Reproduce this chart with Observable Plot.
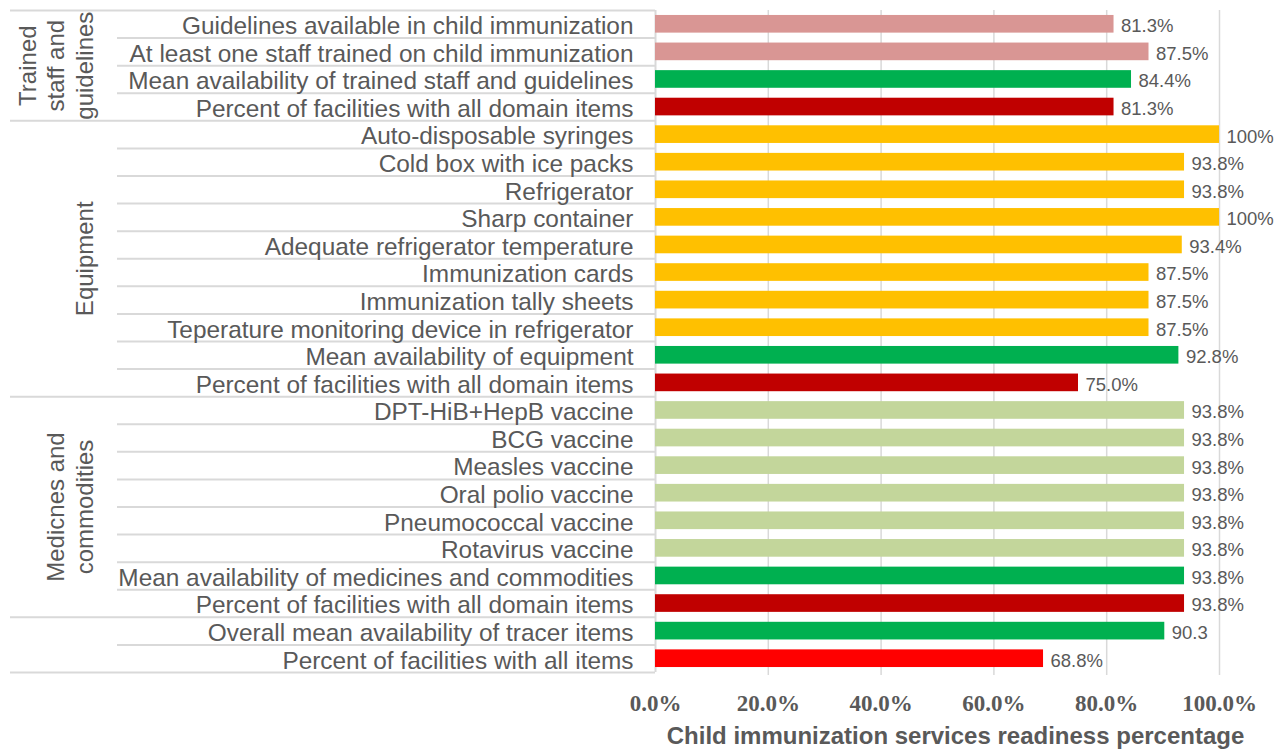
<!DOCTYPE html>
<html>
<head>
<meta charset="utf-8">
<script src="https://cdn.jsdelivr.net/npm/d3@7"></script>
<script src="https://cdn.jsdelivr.net/npm/@observablehq/plot@0.6"></script>
<style>
  body { margin: 0; background: #ffffff; }
  #chart svg { display: block; }
</style>
</head>
<body>
<div id="chart"></div>
<script>
// ---- Data ----
const items = [
  "Guidelines available in child immunization",
  "At least one staff trained on child immunization",
  "Mean availability of trained staff and guidelines",
  "Percent of facilities with all domain items",
  "Auto-disposable syringes",
  "Cold box with ice packs",
  "Refrigerator",
  "Sharp container",
  "Adequate refrigerator temperature",
  "Immunization cards",
  "Immunization tally sheets",
  "Teperature monitoring device in refrigerator",
  "Mean availability of equipment",
  "Percent of facilities with all domain items",
  "DPT-HiB+HepB vaccine",
  "BCG vaccine",
  "Measles vaccine",
  "Oral polio vaccine",
  "Pneumococcal vaccine",
  "Rotavirus vaccine",
  "Mean availability of medicines and commodities",
  "Percent of facilities with all domain items",
  "Overall mean availability of tracer items",
  "Percent of facilities with all items"
];
const values = [
  81.3, 87.5, 84.4, 81.3,
  100, 93.8, 93.8, 100, 93.4, 87.5, 87.5, 87.5, 92.8, 75.0,
  93.8, 93.8, 93.8, 93.8, 93.8, 93.8, 93.8, 93.8,
  90.3, 68.8
];
const valueLabels = [
  "81.3%", "87.5%", "84.4%", "81.3%",
  "100%", "93.8%", "93.8%", "100%", "93.4%", "87.5%", "87.5%", "87.5%", "92.8%", "75.0%",
  "93.8%", "93.8%", "93.8%", "93.8%", "93.8%", "93.8%", "93.8%", "93.8%",
  "90.3", "68.8%"
];
const kinds = [
  "staff", "staff", "mean", "domainAll",
  "equipment", "equipment", "equipment", "equipment", "equipment", "equipment", "equipment", "equipment", "mean", "domainAll",
  "medicine", "medicine", "medicine", "medicine", "medicine", "medicine", "mean", "domainAll",
  "mean", "allItems"
];
const groupNames = ["Trained\nstaff and\nguidelines", "Equipment", "Medicnes and\ncommodities", ""];
const groupSizes = [4, 10, 8, 2];
const ticks = [0, 20, 40, 60, 80, 100];
const axisTitle = "Child immunization services readiness percentage";

// ---- Derived tables ----
const rowGroup = groupSizes.flatMap((n, g) => Array(n).fill(g));
const rows = items.map((label, i) => ({
  i, label, value: values[i], text: valueLabels[i], kind: kinds[i], group: rowGroup[i]
}));
const rowLines = [];
const groupLines = [-0.5];
for (let i = 0; i < rows.length; i++) {
  if (i < rows.length - 1 && rowGroup[i] === rowGroup[i + 1]) rowLines.push(i + 0.5);
  else groupLines.push(i + 0.5);
}
let start = 0;
const groupLabels = groupNames.map((name, g) => {
  const center = start + (groupSizes[g] - 1) / 2;
  start += groupSizes[g];
  return {name, center};
}).filter(d => d.name);

const gray = "#595959";
const lineColor = "#d9d9d9";

const chart = Plot.plot({
  width: 1286,
  height: 750,
  marginTop: 10,
  marginBottom: 78,
  marginLeft: 655,
  marginRight: 67,
  style: {fontFamily: "'Liberation Sans', Arial, sans-serif", background: "#ffffff", color: gray},
  x: {domain: [0, 100], axis: null},
  y: {domain: [-0.5, rows.length - 0.5], reverse: true, axis: null},
  color: {
    domain: ["staff", "equipment", "medicine", "mean", "domainAll", "allItems"],
    range: ["#D99694", "#FFC000", "#C3D69B", "#00B050", "#C00000", "#FF0000"]
  },
  marks: [
    Plot.gridX(ticks.slice(1), {stroke: lineColor, strokeOpacity: 1, strokeWidth: 1.5, insetBottom: -3}),
    Plot.ruleX([0], {stroke: lineColor, strokeWidth: 2}),
    Plot.ruleY(rowLines, {stroke: lineColor, strokeWidth: 2, insetLeft: -538, insetRight: 564}),
    Plot.ruleY(groupLines, {stroke: lineColor, strokeWidth: 2, insetLeft: -645, insetRight: 564}),
    Plot.rectX(rows, {x1: 0, x2: "value", y1: d => d.i - 0.32, y2: d => d.i + 0.32, fill: "kind"}),
    Plot.text(rows, {x: "value", y: "i", text: "text", dx: 7, dy: 2, textAnchor: "start", fontSize: 18.5, fill: gray}),
    Plot.text(rows, {y: "i", text: "label", frameAnchor: "left", dx: -22, dy: 2, textAnchor: "end", fontSize: 24.4, fill: gray}),
    Plot.text(groupLabels, {y: "center", text: "name", frameAnchor: "left", dx: -563, rotate: -90,
      textAnchor: "middle", lineAnchor: "bottom", lineHeight: 1.18, fontSize: 24, fill: gray}),
    Plot.axisX(ticks, {tickFormat: d => d.toFixed(1) + "%", tickSize: 0, tickPadding: 22, fontSize: 23,
      fontFamily: "'Liberation Serif', 'Times New Roman', serif", fontWeight: "bold", fill: gray, label: null}),
    Plot.text([axisTitle], {text: d => d, frameAnchor: "bottom", dx: 18, dy: 71, lineAnchor: "bottom",
      fontSize: 24, fontWeight: "bold", fill: gray})
  ]
});
document.getElementById("chart").appendChild(chart);
</script>
</body>
</html>
